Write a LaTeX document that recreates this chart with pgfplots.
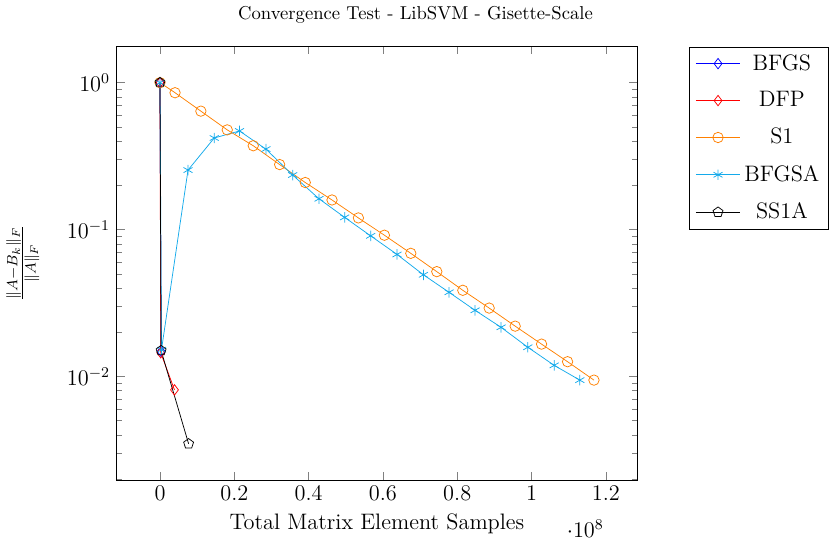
\documentclass[border=0pt]{standalone}
\usepackage{pgfplots}
\pgfplotsset{compat=1.18}
\definecolor{cyanA}{RGB}{20,170,235}
\begin{document}
\begin{tikzpicture}
\begin{axis}[
  scale only axis,
  width=279.5pt, height=232.6pt,
  title={Convergence Test - LibSVM - Gisette-Scale},
  title style={at={(0.574,1)},yshift=3pt},
  xlabel={Total Matrix Element Samples},
  ylabel={$\frac{\|A-B_k\|_F}{\|A\|_F}$},
  ylabel shift=8pt,
  x label style={font=\large},
  y label style={font=\large},
  tick label style={font=\large},
  every x tick scale label/.style={at={(0.9,0)},anchor=center,yshift=-26pt,inner sep=0pt,font=\large},
  ymode=log,
  mark size=2.8pt,
  legend style={at={(1.1,1)},anchor=north west,font=\large,row sep=6pt},
  legend cell align=center,
  legend image code/.code={\draw[mark repeat=2,mark phase=2] plot coordinates {(0cm,0cm) (0.42cm,0cm) (0.84cm,0cm)};},
]
\addplot[blue,mark=diamond] coordinates {(0,1) (0.3e6,0.0148)};
\addlegendentry{BFGS}
\addplot[red,mark=diamond] coordinates {(0,1) (0.2e6,0.0145) (3.9e6,0.0081)};
\addlegendentry{DFP}
\addplot[orange,mark=o] coordinates {
(0,1) (4.05e6,0.854) (11.0e6,0.640) (18.1e6,0.477) (25.1e6,0.372) (32.2e6,0.277)
(39.1e6,0.209) (46.3e6,0.159) (53.4e6,0.120) (60.4e6,0.0915) (67.5e6,0.0689)
(74.5e6,0.0517) (81.5e6,0.0386) (88.6e6,0.0292) (95.6e6,0.0220) (102.7e6,0.0166)
(109.7e6,0.0126) (116.8e6,0.00944)};
\addlegendentry{S1}
\addplot[cyanA,mark=asterisk] coordinates {
(0,1) (0.4e6,0.0152) (7.54e6,0.254) (14.6e6,0.420) (21.4e6,0.469) (28.5e6,0.353)
(35.7e6,0.235) (42.8e6,0.162) (49.7e6,0.121) (56.7e6,0.0906) (63.8e6,0.0677)
(70.9e6,0.0492) (77.8e6,0.0374) (84.8e6,0.0282) (91.8e6,0.0216) (99.0e6,0.0158)
(106.1e6,0.0119) (113.0e6,0.00944)};
\addlegendentry{BFGSA}
\addplot[black,mark=pentagon] coordinates {(0,1) (0.3e6,0.0150) (7.7e6,0.00348)};
\addlegendentry{SS1A}
\end{axis}
\end{tikzpicture}
\end{document}
